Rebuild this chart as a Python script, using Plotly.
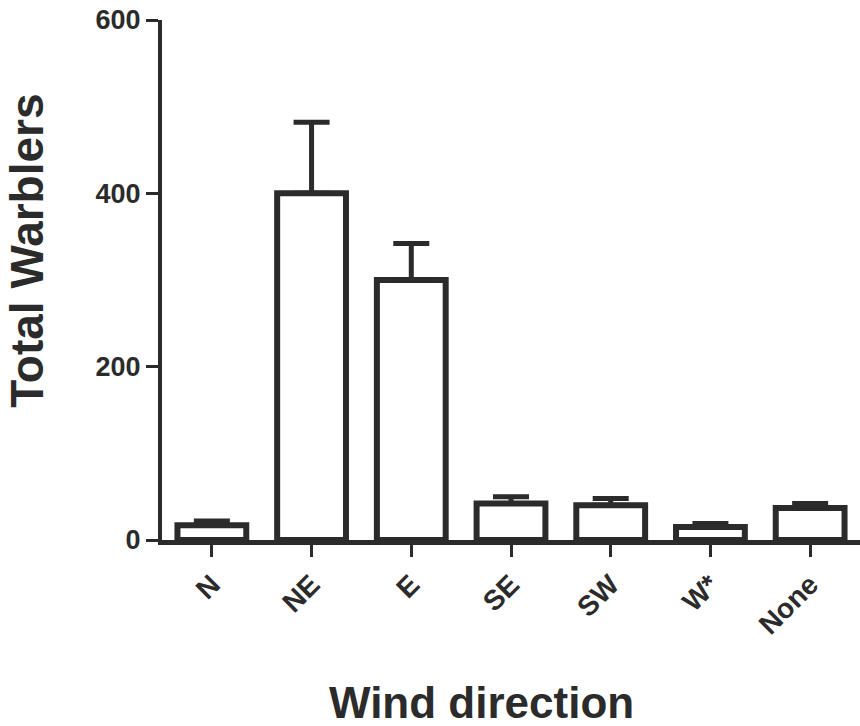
import plotly.graph_objects as go

categories = ["N", "NE", "E", "SE", "SW", "W*", "None"]
means = [17, 400, 300, 42, 40, 15, 37]
errors = [5, 82, 42, 8, 8, 4, 5]
y_ticks = [0, 200, 400, 600]

INK = "#2b2b2b"
FONT = "Liberation Sans, Arial, sans-serif"

fig = go.Figure()
fig.add_trace(go.Bar(
    x=categories,
    y=means,
    width=0.69,
    marker=dict(color="white", line=dict(color=INK, width=6)),
    error_y=dict(type="data", symmetric=False, array=errors,
                 arrayminus=[0] * len(errors),
                 color=INK, thickness=5, width=18),
    showlegend=False,
))

fig.update_layout(
    width=860, height=726,
    margin=dict(l=162, r=0, t=20, b=186),
    paper_bgcolor="white", plot_bgcolor="white",
    bargap=0.31,
    xaxis=dict(
        type="category", categoryorder="array", categoryarray=categories,
        range=[-0.5, 6.5],
        showline=True, linecolor=INK, linewidth=5,
        ticks="outside", ticklen=12, tickwidth=3, tickcolor=INK,
        tickangle=-45,
        tickfont=dict(family=FONT, size=28, color=INK, weight="bold"),
        showgrid=False, zeroline=False,
    ),
    yaxis=dict(
        range=[0, 600], tickvals=y_ticks,
        showline=True, linecolor=INK, linewidth=4,
        ticks="outside", ticklen=12, tickwidth=3, tickcolor=INK,
        tickfont=dict(family=FONT, size=27, color=INK, weight="bold"),
        ticklabeloverflow="allow",
        showgrid=False, zeroline=False,
    ),
    annotations=[
        dict(text="Wind direction", xref="paper", yref="paper",
             x=0.458, y=-0.313, xanchor="center", yanchor="middle",
             showarrow=False,
             font=dict(family=FONT, size=44, color=INK, weight="bold")),
        dict(text="Total Warblers", xref="paper", yref="paper",
             x=-0.1935, y=0.556, xanchor="center", yanchor="middle",
             textangle=-90, showarrow=False,
             font=dict(family=FONT, size=46, color=INK, weight="bold")),
    ],
)

fig.write_html(
    "out.html",
    config={"displayModeBar": False},
    post_script="document.body.style.margin='0';document.body.style.overflow='hidden';",
)
